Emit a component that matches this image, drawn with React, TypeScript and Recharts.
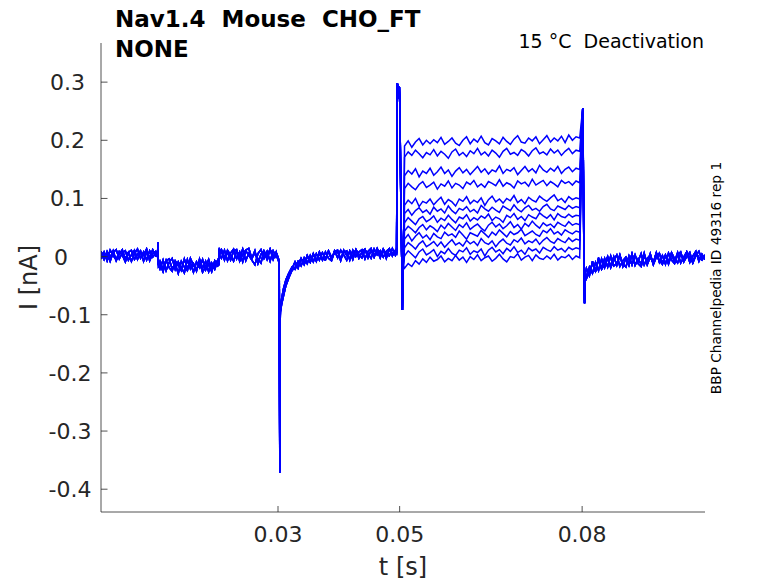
import React from 'react';
import { LineChart, Line, XAxis, YAxis } from 'recharts';

type Pt = { t: number; i: number };

// ---------- text ----------
const TITLE_1 = 'Nav1.4  Mouse  CHO_FT';
const TITLE_2 = 'NONE';
const CONDITION = '15 °C  Deactivation';
const SOURCE = 'BBP Channelpedia ID 49316 rep 1';
const X_LABEL = 't [s]';
const Y_LABEL = 'I [nA]';

// ---------- axes ----------
const X_DOMAIN: [number, number] = [0.0009, 0.1002];
const Y_DOMAIN: [number, number] = [-0.4392, 0.3673];
const X_TICKS = [0.03, 0.05, 0.08];
const Y_TICKS = [-0.4, -0.3, -0.2, -0.1, 0, 0.1, 0.2, 0.3];

// ---------- sampling (s) ----------
const BASE_DT = 0.0005;
const STEP_DT = 0.0006;
const HOLD1_T0 = 0.0009;
const COND_T0 = 0.0106;
const HOLD2_T0 = 0.0207;
const RECOV_T0 = 0.0328;
const STEP_T0 = 0.0508;
const TAIL_T0 = 0.0807;

// ---------- currents (pA), three overlapping baseline sweeps ----------
const HOLD1_A = [6, -5, 9, -2, 10, -7, 4, 12, -4, 7, -8, 5, 13, -3, 8, -6, 10, -1, 6];
const HOLD1_B = [-4, 8, -7, 11, 2, -6, 9, 3, -9, 7, 11, -5, 4, 10, -8, 8, -2, 12, 1];
const HOLD1_C = [9, -1, 5, -8, 7, 12, -4, 6, 10, -6, 3, 11, -5, 7, 2, 13, -7, 5, 9];

const EDGE1_T = [0.0102, 0.01025, 0.0103, 0.01035];
const EDGE1_A = [2, 25, -6, -15];
const EDGE1_B = [0, 22, -8, -13];
const EDGE1_C = [4, 18, -4, -17];

const COND_A = [-8, -22, -6, -19, -25, -7, -15, -24, -4, -20, -11, -27, -9, -19, -5, -23, -13, -26, -7, -16];
const COND_B = [-21, -6, -24, -10, -3, -22, -9, -19, -28, -5, -21, -12, -25, -4, -20, -8, -26, -11, -22, -7];
const COND_C = [-13, -26, -7, -4, -21, -12, -29, -8, -18, -24, -3, -15, -23, -9, -27, -17, -5, -22, -14, -6];

const EDGE2_T = [0.0203, 0.02035, 0.0204];
const EDGE2_A = [-13, 15, 4];
const EDGE2_B = [-15, 10, 2];
const EDGE2_C = [-11, 13, 6];

const HOLD2_A = [9, -6, 11, 3, -8, 10, -2, 13, -7, 6, -3, 10, -12, 4, 9, -5, 12, 1, 7];
const HOLD2_B = [-3, 11, -7, 6, 13, -4, 8, -9, 10, 2, -6, -14, 5, 12, -3, 9, -8, 10, -1];
const HOLD2_C = [12, -1, 7, -6, 9, 12, -8, 4, 11, 14, -3, 6, -4, -11, 10, 0, 13, -5, 8];

const PEAK_T = [0.0299, 0.0301, 0.0302, 0.0303, 0.03035, 0.0304, 0.0306, 0.0309, 0.0313, 0.0318, 0.0323];
const PEAK_A = [0, -6, -14, -372, -115, -95, -82, -68, -50, -36, -24];
const PEAK_B = [2, -4, -10, -360, -100, -85, -72, -55, -40, -28, -18];
const PEAK_C = [-1, -8, -18, -368, -108, -90, -78, -60, -44, -31, -21];

const RECOV_A = [-19, -8, -16, -2, -12, 2, -9, 5, -6, 7, -4, 9, -5, 10, -2, 11, 3, -6, 10, -1, 12, -3, 8, 13, -2, 11, 0, 14, 3, 12, -3, 13, 6, 9];
const RECOV_B = [-22, -11, -4, -14, 1, -10, 4, -7, 6, -6, 8, -3, -7, 9, 11, -4, 7, 10, -6, 11, 0, 8, 12, -4, 9, 14, -1, 11, -2, 13, 4, 1, 14, 2];
const RECOV_C = [-9, -20, -3, -13, 2, -9, 5, -8, 8, -4, -6, 10, -1, 6, 9, -7, 11, 2, 8, -5, 12, 4, -2, 11, 5, -3, 13, 3, 10, -1, 9, 14, 1, 11];

const ON_T = [0.0495, 0.04955, 0.0496, 0.0497, 0.0498, 0.0499, 0.04995, 0.05005, 0.0502, 0.0504, 0.05045, 0.0505, 0.0506];
const ON_I = [6, 150, 298, 294, 284, 272, 292, 250, 90, -40, -92, -55, -15];

// ---------- deactivation steps (pA), 12 sweeps ----------
const STEP_1 = [190, 199, 188, 197, 203, 192, 200, 194, 201, 196, 205, 193, 198, 204, 195, 191, 200, 206, 194, 202, 197, 207, 196, 192, 203, 199, 194, 205, 198, 193, 202, 208, 197, 195, 204, 199, 206, 194, 201, 208, 197, 204, 199, 207, 196, 209, 200, 206, 204];
const STEP_2 = [171, 180, 174, 183, 177, 170, 179, 175, 184, 173, 181, 176, 169, 180, 185, 174, 179, 172, 182, 177, 186, 175, 180, 173, 183, 178, 171, 181, 186, 176, 179, 174, 184, 180, 173, 182, 187, 177, 180, 175, 185, 178, 183, 174, 181, 186, 177, 183, 181];
const STEP_3 = [139, 148, 142, 151, 137, 147, 143, 152, 140, 146, 154, 143, 149, 138, 147, 153, 144, 150, 141, 148, 155, 145, 151, 142, 149, 146, 156, 143, 150, 147, 153, 141, 148, 155, 146, 151, 144, 157, 149, 145, 152, 147, 155, 143, 150, 154, 146, 152, 150];
const STEP_4 = [117, 126, 120, 115, 124, 129, 119, 123, 128, 116, 125, 121, 130, 118, 126, 123, 117, 128, 124, 131, 120, 125, 119, 129, 126, 122, 132, 121, 127, 124, 118, 130, 125, 128, 121, 133, 123, 127, 131, 122, 129, 125, 120, 131, 126, 129, 123, 130, 127];
const STEP_5 = [88, 97, 91, 100, 86, 95, 92, 99, 89, 96, 102, 90, 98, 94, 87, 99, 95, 103, 91, 97, 93, 101, 88, 98, 104, 94, 99, 92, 100, 96, 105, 93, 98, 91, 102, 97, 94, 104, 99, 95, 101, 106, 96, 100, 93, 103, 98, 101, 99];
const STEP_6 = [74, 81, 71, 79, 84, 76, 80, 73, 85, 78, 82, 75, 87, 79, 74, 83, 80, 86, 77, 81, 75, 88, 82, 78, 85, 80, 76, 87, 83, 79, 89, 81, 77, 84, 88, 80, 83, 78, 86, 90, 82, 79, 87, 84, 81, 88, 83, 86, 84];
const STEP_7 = [58, 67, 61, 55, 65, 69, 60, 64, 70, 59, 66, 62, 71, 64, 58, 68, 65, 72, 61, 67, 63, 70, 66, 73, 62, 68, 65, 59, 71, 67, 74, 64, 69, 62, 72, 68, 65, 75, 70, 66, 72, 63, 74, 69, 67, 73, 68, 71, 70];
const STEP_8 = [44, 52, 47, 41, 50, 55, 46, 53, 49, 43, 54, 48, 57, 51, 45, 55, 50, 58, 47, 52, 56, 49, 44, 54, 59, 51, 56, 48, 53, 60, 50, 55, 47, 57, 52, 61, 54, 49, 58, 53, 56, 50, 59, 55, 52, 60, 54, 57, 55];
const STEP_9 = [30, 38, 27, 35, 41, 32, 37, 29, 40, 34, 31, 42, 36, 39, 33, 44, 37, 30, 41, 38, 35, 45, 39, 33, 42, 37, 46, 40, 34, 43, 38, 41, 47, 36, 40, 44, 38, 35, 45, 41, 48, 39, 43, 37, 46, 42, 39, 44, 42];
const STEP_10 = [15, 24, 19, 13, 22, 27, 17, 21, 26, 18, 25, 16, 23, 29, 20, 24, 18, 28, 22, 26, 19, 31, 24, 21, 27, 17, 25, 30, 23, 20, 29, 25, 32, 22, 27, 24, 30, 21, 28, 33, 26, 23, 31, 27, 24, 32, 26, 30, 28];
const STEP_11 = [1, 10, 4, -2, 8, 13, 3, 7, 12, 0, 9, 5, 14, 6, 2, 11, 8, 15, 4, 10, 7, 13, 1, 11, 16, 8, 12, 5, 14, 9, 17, 7, 11, 4, 15, 10, 13, 6, 16, 12, 9, 17, 11, 14, 8, 16, 12, 15, 13];
const STEP_12 = [-20, -12, -17, -7, -13, -4, -10, -1, -8, -5, 1, -9, -3, -7, 2, -6, -1, -10, 0, -5, 3, -7, -2, 1, -8, -3, 4, -4, -9, 0, -2, 5, -6, -1, 2, -7, 3, -3, -5, 1, -4, 4, -6, 0, -2, 3, -5, 1, -2];

const OFF_T = [0.0801, 0.08015, 0.0802, 0.0803, 0.0804, 0.08045, 0.0805];
const OFF_I = [255, 240, 150, -20, -80, -55, -30];

const TAIL_A = [-34, -18, -29, -10, -24, -4, -19, -2, -17, 0, -15, 2, -13, -18, 1, -14, 3, -12, -17, 2, -11, 5, -14, -1, 6, -12, 2, -13, 4, -9, 7, -11, -1, 8, -10, 1, 9, -8, 4, -5];
const TAIL_B = [-38, -26, -12, -25, -5, -20, -3, -18, 1, -16, -12, 3, -17, -2, -14, 5, -15, -4, -13, 6, -14, -1, -11, 7, -10, 2, -13, 6, -6, -12, 3, 8, -9, 0, 7, -11, 2, 9, -5, 1];
const TAIL_C = [-20, -33, -8, -26, -2, -22, -13, 0, -19, -6, 3, -17, -7, -1, -15, 4, -13, -8, 5, -14, -3, 2, -12, 6, -7, -13, 3, -9, 7, -4, -11, 5, -8, 8, -2, -10, 6, -1, -6, 3];

const STEPS = [STEP_1, STEP_2, STEP_3, STEP_4, STEP_5, STEP_6, STEP_7, STEP_8, STEP_9, STEP_10, STEP_11, STEP_12];
const HOLD1 = [HOLD1_A, HOLD1_B, HOLD1_C];
const EDGE1 = [EDGE1_A, EDGE1_B, EDGE1_C];
const COND = [COND_A, COND_B, COND_C];
const EDGE2 = [EDGE2_A, EDGE2_B, EDGE2_C];
const HOLD2 = [HOLD2_A, HOLD2_B, HOLD2_C];
const PEAK = [PEAK_A, PEAK_B, PEAK_C];
const RECOV = [RECOV_A, RECOV_B, RECOV_C];
const TAIL = [TAIL_A, TAIL_B, TAIL_C];

const regular = (t0: number, dt: number, vals: number[]): Pt[] =>
  vals.map((v, k) => ({ t: +(t0 + k * dt).toFixed(6), i: v }));
const timed = (ts: number[], vals: number[]): Pt[] => ts.map((t, k) => ({ t, i: vals[k] }));

const TRACES: Pt[][] = STEPS.map((step, k) => {
  const b = k % 3;
  return [
    ...regular(HOLD1_T0, BASE_DT, HOLD1[b]),
    ...timed(EDGE1_T, EDGE1[b]),
    ...regular(COND_T0, BASE_DT, COND[b]),
    ...timed(EDGE2_T, EDGE2[b]),
    ...regular(HOLD2_T0, BASE_DT, HOLD2[b]),
    ...timed(PEAK_T, PEAK[b]),
    ...regular(RECOV_T0, BASE_DT, RECOV[b]),
    ...timed(ON_T, ON_I),
    ...regular(STEP_T0, STEP_DT, step),
    ...timed(OFF_T, OFF_I),
    ...regular(TAIL_T0, BASE_DT, TAIL[b]),
  ];
});

const FONT = '"DejaVu Sans", "Liberation Sans", sans-serif';
const AX = '#262626';

const fmtY = (v: number) => String(Number(v.toFixed(1)));

const XTick = (props: any) => {
  const { x, y, payload } = props;
  return (
    <g>
      <line x1={x} x2={x} y1={y} y2={y - 6} stroke={AX} strokeWidth={0.8} />
      <text x={x} y={y + 29.5} textAnchor="middle" fontSize={22} fill={AX} fontFamily={FONT}>
        {String(payload.value)}
      </text>
    </g>
  );
};

const YTick = (props: any) => {
  const { x, y, payload } = props;
  const v = payload.value as number;
  const right = v === 0 ? x - 33 : v > 0 ? x - 16 : x - 9.5;
  return (
    <g>
      <line x1={x} x2={x + 6.5} y1={y} y2={y} stroke={AX} strokeWidth={0.8} />
      <text x={right} y={y + 8} textAnchor="end" fontSize={22} fill={AX} fontFamily={FONT}>
        {fmtY(v)}
      </text>
    </g>
  );
};

export default function App() {
  return (
    <div style={{ position: 'absolute', left: 0, top: 0, width: 778, height: 583, background: '#fff' }}>
      <LineChart width={778} height={583} margin={{ top: 43, right: 73, bottom: 0, left: 0 }}>
        <XAxis
          type="number"
          dataKey="t"
          domain={X_DOMAIN}
          ticks={X_TICKS}
          allowDataOverflow
          height={71}
          tickSize={0}
          tickMargin={0}
          tickLine={false}
          tick={<XTick />}
          axisLine={{ stroke: AX, strokeWidth: 0.8 }}
          interval={0}
        />
        <YAxis
          type="number"
          domain={Y_DOMAIN}
          ticks={Y_TICKS}
          allowDataOverflow
          width={101}
          tickSize={0}
          tickMargin={0}
          tickLine={false}
          tick={<YTick />}
          axisLine={{ stroke: AX, strokeWidth: 0.8 }}
          interval={0}
        />
        {TRACES.map((tr, k) => (
          <Line
            key={k}
            data={tr}
            dataKey={(d: Pt) => d.i / 1000}
            type="linear"
            stroke="#0000ff"
            strokeWidth={1.5}
            dot={false}
            activeDot={false}
            isAnimationActive={false}
          />
        ))}
      </LineChart>
      <svg width={778} height={583} style={{ position: 'absolute', left: 0, top: 0, pointerEvents: 'none' }}>
        <text x={115} y={27} fontFamily={FONT} fontWeight="bold" fontSize={23} fill="#000" style={{ whiteSpace: 'pre' }}>
          {TITLE_1}
        </text>
        <text x={115} y={56.5} fontFamily={FONT} fontWeight="bold" fontSize={23} fill="#000">
          {TITLE_2}
        </text>
        <text x={704} y={47.5} textAnchor="end" fontFamily={FONT} fontSize={19} fill="#000" style={{ whiteSpace: 'pre' }}>
          {CONDITION}
        </text>
        <text
          x={721}
          y={278}
          textAnchor="middle"
          fontFamily={FONT}
          fontSize={13.7}
          fill="#000"
          transform="rotate(-90 721 278)"
        >
          {SOURCE}
        </text>
        <text x={403} y={575} textAnchor="middle" fontFamily={FONT} fontSize={24} fill={AX}>
          {X_LABEL}
        </text>
        <text
          x={36.5}
          y={277.5}
          textAnchor="middle"
          fontFamily={FONT}
          fontSize={24}
          fill={AX}
          transform="rotate(-90 36.5 277.5)"
        >
          {Y_LABEL}
        </text>
      </svg>
    </div>
  );
}
